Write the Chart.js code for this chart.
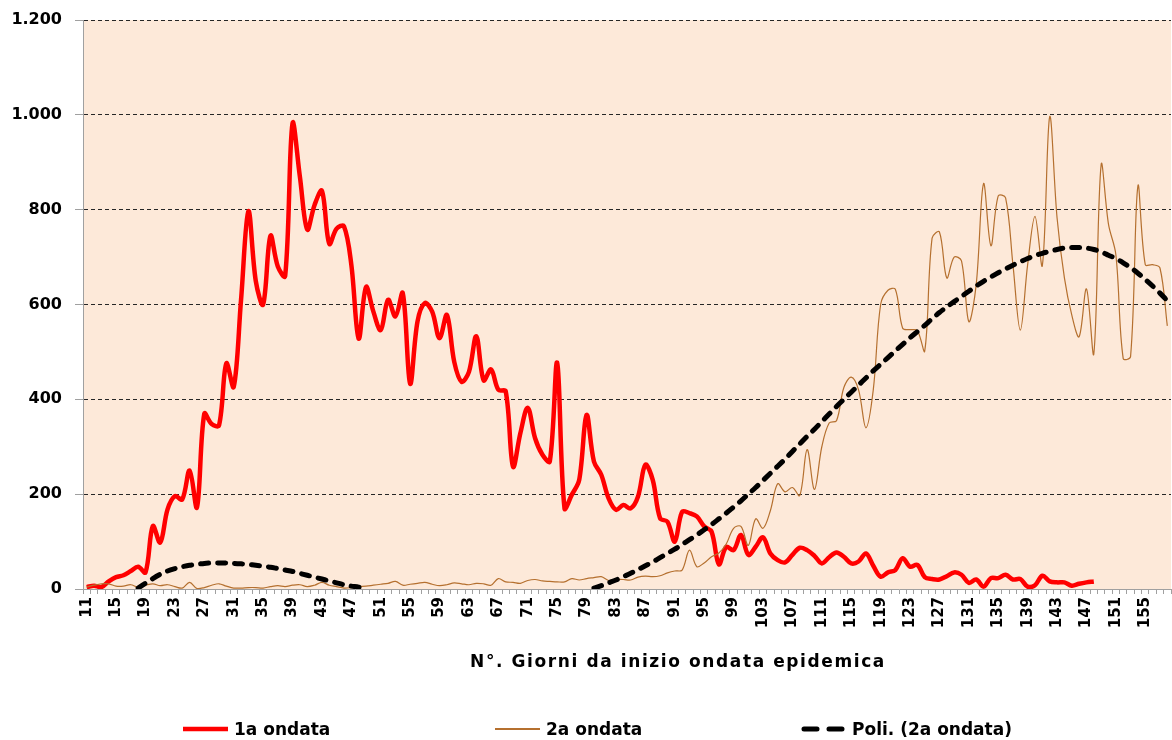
<!DOCTYPE html>
<html lang="it">
<head>
<meta charset="utf-8">
<title>1a e 2a ondata epidemica</title>
<script src="https://cdn.jsdelivr.net/npm/chart.js@4.4.1/dist/chart.umd.min.js"></script>
<style>
  html, body { margin: 0; padding: 0; background: #fff; }
  #wrap { position: relative; width: 1172px; height: 740px; font-family: "DejaVu Sans", Verdana, sans-serif; color: #000; }
  #chart { position: absolute; left: 0; top: 0; }
  #xTitle { position: absolute; top: 651px; left: 678px; transform: translateX(-50%);
            font-size: 17px; font-weight: bold; letter-spacing: 1.6px; line-height: 1.2; white-space: nowrap; }
  #legend { position: absolute; top: 719px; left: 183px; display: flex; font-size: 17px; font-weight: bold; line-height: 1.2; }
  .lg-item { display: flex; align-items: center; white-space: nowrap; }
  .lg-item:nth-child(1) { width: 312px; }
  .lg-item:nth-child(2) { width: 306px; }
  .lg-item svg { margin-right: 5px; }
</style>
</head>
<body>
<div id="wrap">
  <canvas id="chart" width="1172" height="740"></canvas>
  <div id="xTitle"></div>
  <div id="legend"></div>
</div>
<script>
/* ===== dati ===== */
const giorni = [
  11, 12, 13, 14, 15, 16, 17, 18, 19, 20,
  21, 22, 23, 24, 25, 26, 27, 28, 29, 30,
  31, 32, 33, 34, 35, 36, 37, 38, 39, 40,
  41, 42, 43, 44, 45, 46, 47, 48, 49, 50,
  51, 52, 53, 54, 55, 56, 57, 58, 59, 60,
  61, 62, 63, 64, 65, 66, 67, 68, 69, 70,
  71, 72, 73, 74, 75, 76, 77, 78, 79, 80,
  81, 82, 83, 84, 85, 86, 87, 88, 89, 90,
  91, 92, 93, 94, 95, 96, 97, 98, 99, 100,
  101, 102, 103, 104, 105, 106, 107, 108, 109, 110,
  111, 112, 113, 114, 115, 116, 117, 118, 119, 120,
  121, 122, 123, 124, 125, 126, 127, 128, 129, 130,
  131, 132, 133, 134, 135, 136, 137, 138, 139, 140,
  141, 142, 143, 144, 145, 146, 147, 148, 149, 150,
  151, 152, 153, 154, 155, 156, 157, 158
];

// 1a ondata: giorni 11-148
const ondata1 = [
  4, 7, 4, 16, 25, 29, 38, 47, 35, 133,
  98, 168, 196, 189, 250, 172, 370, 348, 345, 476,
  426, 610, 797, 650, 600, 745, 680, 660, 982, 870,
  758, 810, 840, 728, 760, 765, 684, 528, 637, 585,
  546, 610, 575, 624, 433, 564, 603, 585, 529, 578,
  479, 437, 458, 533, 440, 463, 420, 417, 258, 329,
  382, 318, 283, 269, 477, 170, 199, 230, 367, 269,
  241, 191, 167, 177, 170, 195, 262, 230, 149, 142,
  100, 163, 160, 153, 132, 121, 52, 89, 82, 114,
  72, 89, 109, 75, 61, 56, 72, 87, 82, 70,
  54, 67, 77, 68, 54, 58, 75, 49, 26, 35,
  40, 65, 47, 51, 25, 21, 20, 27, 35, 30,
  13, 20, 5, 23, 23, 30, 20, 21, 5, 8,
  28, 16, 14, 14, 7, 11, 14, 16
];

// 2a ondata: giorni 11-158
const ondata2 = [
  4, 8, 11, 11, 6, 6, 9, 4, 8, 11,
  7, 9, 5, 2, 14, 1, 3, 8, 11, 6,
  2, 2, 3, 3, 2, 5, 7, 5, 8, 9,
  5, 8, 14, 8, 5, 2, 3, 5, 6, 8,
  10, 12, 16, 8, 10, 12, 14, 10, 7, 9,
  13, 11, 9, 12, 11, 8, 22, 15, 14, 12,
  18, 20, 17, 16, 15, 15, 22, 19, 22, 24,
  26, 18, 20, 20, 19, 25, 27, 26, 28, 34,
  38, 40, 82, 47, 55, 68, 76, 95, 128, 132,
  92, 148, 128, 165, 222, 205, 214, 197, 294, 210,
  300, 350, 355, 425, 447, 420, 340, 420, 600, 630,
  632, 550, 547, 545, 502, 740, 753, 656, 700, 692,
  564, 642, 855, 724, 829, 825, 684, 546, 684, 786,
  682, 996, 783, 656, 578, 532, 633, 496, 895, 769,
  705, 486, 490, 850, 684, 684, 677, 555
];

// Poli. (2a ondata): tratti visibili sopra lo zero
const poliOndata2 = [
  null, null, null, null, null, null, null, 2, 12, 22,
  31, 38, 43, 47, 50, 52, 54, 55, 55, 55,
  54, 53, 52, 50, 48, 46, 43, 40, 37, 33,
  29, 25, 21, 17, 13, 9, 6, 4, 0, null,
  null, null, null, null, null, null, null, null, null, null,
  null, null, null, null, null, null, null, null, null, null,
  null, null, null, null, null, null, null, null, null, 2,
  7, 13, 19, 26, 33, 41, 49, 57, 66, 75,
  84, 94, 104, 114, 125, 136, 148, 160, 173, 186,
  200, 214, 229, 244, 259, 274, 290, 306, 322, 337,
  353, 369, 385, 400, 415, 430, 445, 460, 474, 488,
  502, 516, 530, 543, 556, 570, 583, 595, 606, 617,
  628, 639, 649, 658, 667, 675, 683, 690, 697, 703,
  708, 712, 716, 719, 720, 720, 719, 716, 711, 704,
  697, 688, 678, 666, 653, 639, 624, 608
];

const yTickLabels = ["0", "200", "400", "600", "800", "1.000", "1.200"];
const serieNomi = ["1a ondata", "2a ondata", "Poli. (2a ondata)"];
const titoloAsseX = "N°. Giorni da inizio ondata epidemica";

/* ===== grafico ===== */
Chart.defaults.font.family = "'DejaVu Sans', Verdana, sans-serif";
Chart.defaults.color = "#000";

const AXIS_GREY = "#a0a0a0";

// sfondo color pesca dell'area del tracciato
const plotBackground = {
  id: "plotBackground",
  beforeDraw(chart) {
    const { ctx, chartArea: a } = chart;
    ctx.save();
    ctx.fillStyle = "#fde9d9";
    ctx.fillRect(a.left, a.top, a.right - a.left, a.bottom - a.top);
    ctx.restore();
  }
};

const chart = new Chart(document.getElementById("chart"), {
  type: "line",
  data: {
    labels: giorni,
    datasets: [
      { label: serieNomi[0], data: ondata1, borderColor: "#ff0000", borderWidth: 4.5,
        tension: 0.35, order: 3 },
      { label: serieNomi[1], data: ondata2, borderColor: "#b5702f", borderWidth: 1.2,
        tension: 0.35, order: 2 },
      { label: serieNomi[2], data: poliOndata2, borderColor: "#000", borderWidth: 5,
        borderDash: [8, 9], borderCapStyle: "round", tension: 0.3, order: 1, clip: 0 }
    ]
  },
  options: {
    responsive: false,
    animation: false,
    events: [],
    layout: { padding: { left: 11, right: 1, top: 20, bottom: 110 } },
    elements: { point: { radius: 0 } },
    plugins: { legend: { display: false }, tooltip: { enabled: false } },
    scales: {
      x: {
        type: "category",
        offset: true,
        grid: { offset: true, drawOnChartArea: false, color: AXIS_GREY, tickLength: 5 },
        border: { color: AXIS_GREY, width: 1 },
        ticks: {
          autoSkip: false, minRotation: 90, maxRotation: 90, padding: 3,
          font: { size: 15, weight: "bold" },
          callback: (v, i) => (i % 4 === 0 ? String(giorni[i]) : "")
        },
        afterFit: (s) => { s.height = 41; s.paddingLeft = 0; s.paddingRight = 0; }
      },
      y: {
        min: 0, max: 1200,
        grid: {
          color: (c) => (c.tick && c.tick.value === 0 ? "rgba(0,0,0,0)" : "#262626"),
          lineWidth: 1, tickLength: 8, tickColor: AXIS_GREY
        },
        border: { color: AXIS_GREY, width: 1, dash: [4, 3] },
        ticks: {
          stepSize: 200, padding: 13,
          font: { size: 16, weight: "bold" },
          callback: (v, i) => yTickLabels[i]
        },
        afterFit: (s) => { s.width = 72; s.paddingTop = 0; s.paddingBottom = 0; }
      }
    }
  },
  plugins: [plotBackground]
});

/* ===== titolo asse X e legenda (HTML) ===== */
document.getElementById("xTitle").textContent = titoloAsseX;

document.getElementById("legend").innerHTML = chart.data.datasets.map(ds => {
  const dash = ds.borderDash ? `stroke-dasharray="13 12" stroke-linecap="round"` : "";
  const w = ds.borderDash ? 5 : Math.max(ds.borderWidth, 2);
  const x1 = ds.borderDash ? 3 : 0, x2 = ds.borderDash ? 43 : 45;
  return `<div class="lg-item">
    <svg width="46" height="10"><line x1="${x1}" y1="5" x2="${x2}" y2="5" stroke="${ds.borderColor}" stroke-width="${w}" ${dash}/></svg>
    <span>${ds.label}</span>
  </div>`;
}).join("");
</script>
</body>
</html>
